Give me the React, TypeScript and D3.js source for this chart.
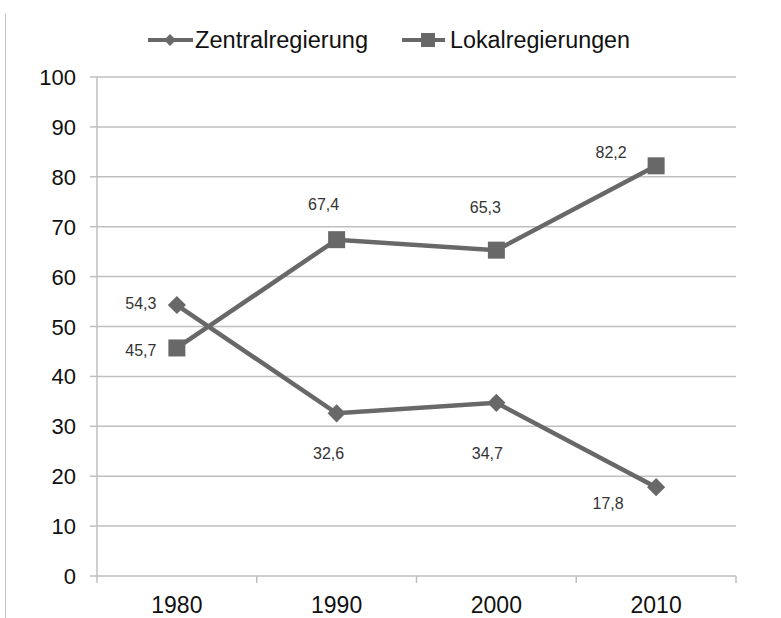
import React from 'react'
import * as d3 from 'd3'

const years = ['1980', '1990', '2000', '2010']
const zentral = [54.3, 32.6, 34.7, 17.8]
const lokal = [45.7, 67.4, 65.3, 82.2]
const yTicks = [0, 10, 20, 30, 40, 50, 60, 70, 80, 90, 100]

// label offsets from the marker, [dx, dy to baseline]
const zentralLabelPos = [[-36, 4], [-8, 46], [-9, 56], [-48, 22]]
const lokalLabelPos = [[-36, 8], [-13, -30], [-11, -37], [-45, -8]]

const W = 781
const H = 618
const left = 97
const right = 736
const top = 77
const bottom = 576

const fmt = (v: number) => String(v).replace('.', ',')

export default function App () {
  const x = d3.scaleBand().domain(years).range([left, right])
  const y = d3.scaleLinear().domain([0, 100]).range([bottom, top])
  const cx = (d: string) => (x(d) as number) + x.bandwidth() / 2

  const line = d3.line<number>()
    .x((d, i) => cx(years[i]))
    .y(d => y(d))

  const diamond = d3.symbol().type(d3.symbolDiamond2).size(210)()
  const font = '"Liberation Sans", Arial, sans-serif'
  const col = '#686868'
  const grid = '#bfbfbf'

  return (
    <svg width={W} height={H} style={{ position: 'absolute', left: 0, top: 0 }} fontFamily={font}>
      <rect width={W} height={H} fill='#fff' />
      <line x1={5.5} x2={5.5} y1={13} y2={H} stroke='#c4c4c4' />

      {/* grid + y axis */}
      {yTicks.map(t => (
        <g key={t}>
          {t > 0 && <line x1={left} x2={right} y1={y(t)} y2={y(t)} stroke={grid} strokeWidth={1.5} />}
          <line x1={left - 7} x2={left} y1={y(t)} y2={y(t)} stroke={grid} strokeWidth={1.5} />
          <text x={76} y={y(t) + 8} textAnchor='end' fontSize={22} fill='#111'>{t}</text>
        </g>
      ))}
      <line x1={left} x2={left} y1={top} y2={bottom + 7} stroke={grid} strokeWidth={1.5} />
      <line x1={left} x2={right} y1={bottom} y2={bottom} stroke={grid} strokeWidth={1.5} />
      {years.map(d => (
        <g key={d}>
          <line x1={(x(d) as number) + x.bandwidth()} x2={(x(d) as number) + x.bandwidth()} y1={bottom} y2={bottom + 7} stroke={grid} strokeWidth={1.5} />
          <text x={cx(d)} y={613} textAnchor='middle' fontSize={23} fill='#111'>{d}</text>
        </g>
      ))}

      {/* series */}
      <path d={line(zentral) as string} fill='none' stroke={col} strokeWidth={4.5} />
      <path d={line(lokal) as string} fill='none' stroke={col} strokeWidth={4.5} />
      {zentral.map((v, i) => (
        <g key={'z' + i}>
          <path d={diamond as string} transform={`translate(${cx(years[i])},${y(v)})`} fill={col} />
          <text x={cx(years[i]) + zentralLabelPos[i][0]} y={y(v) + zentralLabelPos[i][1]} textAnchor='middle' fontSize={16} fill='#333'>{fmt(v)}</text>
        </g>
      ))}
      {lokal.map((v, i) => (
        <g key={'l' + i}>
          <rect x={cx(years[i]) - 8.5} y={y(v) - 8.5} width={17} height={17} fill={col} />
          <text x={cx(years[i]) + lokalLabelPos[i][0]} y={y(v) + lokalLabelPos[i][1]} textAnchor='middle' fontSize={16} fill='#333'>{fmt(v)}</text>
        </g>
      ))}

      {/* legend */}
      <g transform='translate(148,40)'>
        <line x1={0} x2={45} stroke={col} strokeWidth={4} />
        <path d={diamond as string} transform='translate(22,0) scale(0.65)' fill={col} />
        <text x={47} y={8} fontSize={23.5} fill='#111' textLength={173} lengthAdjust='spacingAndGlyphs'>Zentralregierung</text>
      </g>
      <g transform='translate(402,40)'>
        <line x1={0} x2={43} stroke={col} strokeWidth={4} />
        <rect x={19} y={-7} width={14} height={14} fill={col} />
        <text x={48} y={8} fontSize={23.5} fill='#111' textLength={180} lengthAdjust='spacingAndGlyphs'>Lokalregierungen</text>
      </g>
    </svg>
  )
}
